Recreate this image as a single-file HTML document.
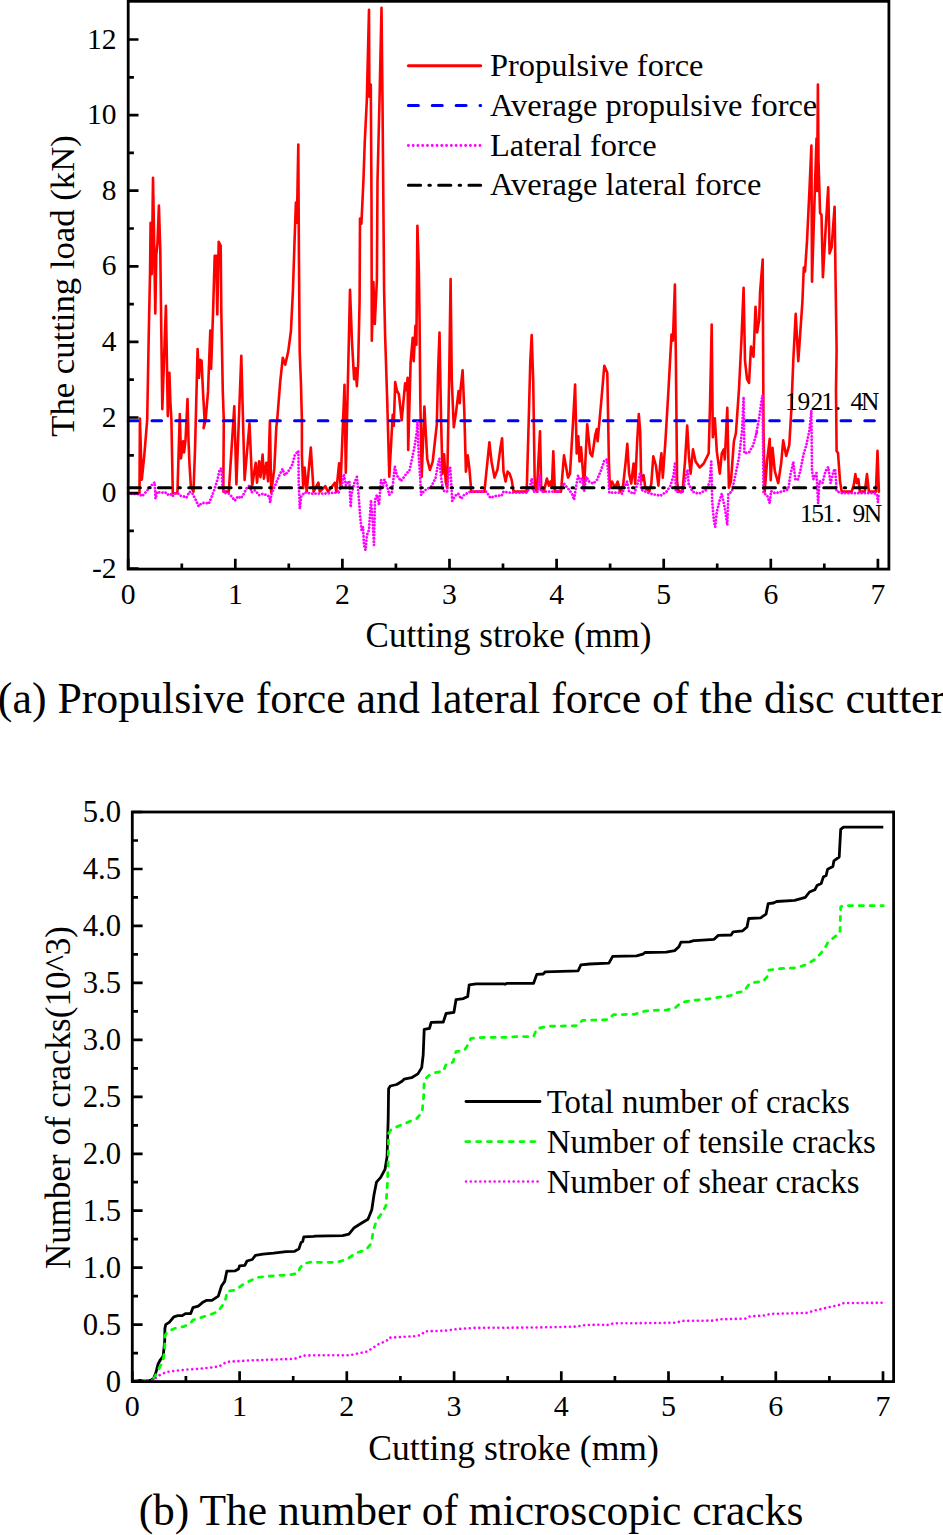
<!DOCTYPE html><html><head><meta charset="utf-8"><title>Figure</title><style>
html,body{margin:0;padding:0;background:#fff;}svg{display:block;}text{font-family:"Liberation Serif",serif;fill:#000;}
</style></head><body>
<svg width="943" height="1535" viewBox="0 0 943 1535">
<rect width="943" height="1535" fill="#fff"/>
<path d="M128.1,493.3 L139.5,493.3 L139.9,418.5 L141.8,479.6 L144.2,456.4 L147.2,419.9 L148.8,331.5 L150.0,275.1 L150.6,222.7 L151.8,274.1 L153.0,177.8 L153.8,220.7 L155.3,313.4 L156.3,254.9 L157.5,242.8 L158.9,205.6 L160.3,250.9 L161.3,331.5 L162.3,409.1 L164.3,351.6 L165.9,305.7 L166.9,361.7 L167.8,416.1 L169.4,372.8 L170.4,402.0 L171.4,419.9 L172.8,493.3 L177.4,493.3 L178.4,460.4 L179.8,414.1 L181.0,458.4 L183.1,441.3 L184.1,452.4 L185.5,440.3 L187.5,399.0 L188.5,440.3 L189.5,464.5 L190.9,486.6 L193.5,491.6 L195.0,450.4 L197.6,349.0 L199.0,377.8 L200.2,359.7 L201.6,360.7 L203.0,391.9 L204.6,419.9 L203.6,428.2 L205.6,420.1 L208.0,391.9 L210.3,330.5 L211.1,368.8 L213.1,311.3 L214.7,255.9 L216.3,255.9 L217.3,314.4 L218.7,241.8 L220.7,245.9 L221.3,311.3 L222.8,391.9 L223.8,419.9 L223.3,491.6 L228.8,491.6 L234.3,406.2 L236.4,484.1 L241.3,355.7 L244.6,480.0 L249.5,423.4 L252.2,485.5 L255.7,462.7 L257.0,482.7 L259.1,461.3 L260.5,477.2 L262.6,454.5 L263.9,478.6 L266.3,462.7 L268.1,481.3 L269.9,420.7 L271.2,492.4 L274.3,468.9 L276.3,427.6 L277.2,419.9 L280.2,381.9 L282.8,357.7 L285.2,364.7 L288.2,351.6 L290.9,331.5 L292.9,291.2 L294.9,230.7 L295.9,202.5 L296.9,222.7 L298.3,144.5 L298.9,250.9 L299.7,351.6 L300.9,381.9 L301.9,419.9 L301.9,455.1 L303.2,488.2 L304.6,467.6 L306.7,491.6 L310.8,447.6 L313.6,491.6 L318.4,482.7 L319.8,491.6 L325.3,486.2 L328.0,491.6 L334.9,482.7 L336.3,491.6 L339.1,463.4 L340.5,485.5 L344.5,384.8 L345.8,472.7 L350.0,289.7 L352.0,342.0 L354.1,379.3 L355.5,368.2 L356.9,386.1 L358.2,362.7 L359.6,300.7 L360.0,218.6 L361.4,223.7 L363.4,181.3 L364.8,141.0 L366.8,100.7 L369.0,9.7 L369.4,96.7 L370.8,84.6 L371.5,200.0 L371.8,340.7 L373.4,282.0 L374.8,324.0 L376.9,280.0 L377.5,181.0 L379.5,100.7 L381.5,7.7 L382.5,100.7 L384.1,290.0 L385.1,335.0 L387.2,400.0 L389.3,476.8 L392.7,414.8 L393.8,425.8 L395.2,382.0 L396.8,390.3 L398.9,394.4 L401.7,420.3 L405.1,383.4 L406.5,390.3 L407.6,377.9 L408.2,450.0 L410.6,362.7 L412.7,337.9 L413.7,361.3 L415.5,325.5 L416.4,344.8 L417.4,225.7 L418.8,268.0 L419.6,321.4 L420.3,400.0 L421.7,476.8 L424.4,406.5 L427.2,458.9 L429.9,470.0 L432.7,461.7 L436.8,424.5 L438.1,370.8 L439.5,332.5 L441.1,421.2 L442.5,473.6 L444.1,454.4 L445.7,481.6 L447.1,487.7 L449.1,380.9 L450.6,279.1 L451.8,380.9 L453.8,427.2 L456.2,411.1 L458.6,391.0 L459.8,403.1 L460.6,389.0 L462.6,370.4 L464.3,411.1 L465.9,471.6 L467.7,455.4 L469.3,467.5 L471.3,491.6 L484.4,491.6 L486.4,471.6 L489.4,442.3 L491.5,461.5 L494.5,477.6 L497.5,469.5 L500.5,447.4 L502.1,438.3 L503.5,471.6 L505.6,481.6 L507.6,471.6 L509.6,473.6 L511.6,479.6 L513.6,491.6 L526.7,491.6 L528.7,421.2 L530.3,360.7 L531.7,335.0 L533.2,380.9 L534.8,487.7 L536.8,491.6 L538.4,461.5 L540.0,431.3 L541.2,487.7 L543.8,491.6 L546.9,478.6 L548.9,485.7 L550.3,481.6 L551.9,487.7 L553.3,451.4 L554.9,491.6 L561.0,491.6 L564.0,455.4 L568.0,477.6 L570.0,473.6 L573.1,421.2 L575.1,384.5 L576.7,453.4 L578.3,436.3 L579.5,461.5 L581.1,447.4 L584.1,487.7 L587.2,424.2 L590.2,453.4 L592.2,456.4 L595.2,435.3 L596.8,429.2 L597.6,441.3 L601.3,401.0 L604.3,365.8 L607.3,372.8 L608.9,461.5 L609.9,487.7 L610.0,487.7 L612.0,481.6 L615.0,487.7 L617.7,481.6 L620.1,491.6 L623.1,485.7 L625.7,461.5 L627.3,443.8 L629.1,473.6 L631.2,483.6 L633.6,463.5 L635.2,483.6 L637.2,441.3 L638.8,414.1 L640.2,431.3 L641.2,481.6 L643.6,475.2 L645.3,487.7 L649.3,491.6 L651.3,483.6 L653.3,456.4 L655.9,465.5 L658.4,485.7 L660.4,461.5 L661.4,453.4 L662.8,477.6 L665.4,441.3 L668.4,391.0 L671.5,334.5 L672.9,340.6 L674.9,284.6 L675.9,360.7 L677.1,481.6 L678.5,491.6 L682.5,491.6 L685.0,461.5 L687.2,425.6 L689.0,457.5 L690.6,473.6 L693.0,449.4 L695.6,461.5 L699.7,467.5 L703.7,463.5 L708.7,453.4 L710.1,401.0 L711.7,324.5 L712.8,437.3 L714.8,418.2 L716.8,451.4 L719.8,473.6 L721.8,453.4 L723.8,449.4 L724.8,459.5 L727.3,407.7 L728.9,487.7 L730.9,481.6 L733.9,441.3 L735.9,433.3 L739.0,389.0 L741.4,340.6 L743.6,287.8 L745.0,360.7 L747.0,378.9 L749.0,382.9 L751.0,346.6 L753.5,356.7 L755.5,306.7 L757.1,332.5 L759.1,320.4 L760.1,291.7 L762.7,259.5 L763.5,430.7 L764.7,491.6 L767.1,461.0 L769.7,438.8 L770.7,480.1 L772.5,447.9 L774.8,471.0 L778.2,483.1 L781.2,463.0 L783.2,440.4 L786.2,455.9 L789.3,444.8 L791.3,410.6 L793.3,360.2 L795.7,313.9 L798.3,361.2 L802.4,301.8 L803.8,267.5 L805.0,271.6 L807.0,241.3 L809.4,191.0 L811.4,145.6 L812.0,281.6 L814.5,201.0 L816.5,138.6 L817.1,191.0 L817.9,84.6 L818.5,160.7 L820.1,213.1 L821.5,215.1 L822.9,277.2 L825.5,231.3 L828.2,187.3 L829.6,253.4 L831.6,247.4 L834.6,206.7 L835.6,281.6 L836.6,349.9 L836.0,390.4 L836.6,450.9 L838.0,452.9 L840.0,481.1 L841.7,491.6 L851.7,491.6 L853.7,485.1 L855.4,474.1 L856.8,483.1 L858.4,479.1 L859.8,491.6 L864.8,491.6 L867.0,474.1 L868.9,491.6 L873.9,491.6 L875.9,491.6 L877.5,450.9 L878.9,491.6" fill="none" stroke="#ff0000" stroke-width="2.6" stroke-linejoin="round" stroke-linecap="round"/>
<path d="M128.2,420.8 H877.8" fill="none" stroke="#0000ff" stroke-width="3" stroke-dasharray="9.6 14.16" stroke-linecap="round"/>
<path d="M128.1,493.7 L140.1,494.3 L141.8,496.3 L146.2,491.7 L150.2,486.6 L153.2,483.6 L154.7,482.2 L155.5,498.7 L157.3,491.7 L160.3,492.7 L165.3,492.3 L167.3,494.7 L170.4,493.7 L172.4,496.3 L175.4,493.1 L178.4,493.7 L180.4,495.7 L183.5,496.3 L186.5,497.7 L189.5,491.7 L192.5,493.7 L195.6,499.7 L198.6,506.2 L201.6,503.2 L205.6,502.8 L208.7,503.8 L211.7,496.7 L214.7,488.7 L217.7,478.6 L219.7,469.5 L221.3,468.5 L222.4,484.6 L223.8,492.7 L228.8,493.7 L231.8,496.7 L234.8,500.7 L237.9,496.3 L240.9,498.3 L243.3,494.7 L246.7,488.2 L250.2,484.8 L251.5,492.4 L255.0,490.3 L259.1,495.1 L263.3,493.7 L269.5,496.5 L270.1,502.7 L271.5,493.7 L275.7,484.1 L279.8,474.4 L282.6,468.9 L284.6,475.1 L288.1,471.7 L292.2,464.8 L295.0,454.5 L298.4,451.0 L298.7,482.7 L299.8,508.9 L301.2,496.5 L304.6,492.4 L311.5,493.7 L325.3,493.5 L339.1,492.4 L337.6,492.7 L341.7,486.5 L343.8,474.1 L345.8,485.1 L349.3,481.0 L350.7,507.2 L351.4,494.8 L354.1,483.7 L356.9,476.9 L358.3,492.0 L359.4,505.8 L360.0,515.0 L361.5,530.0 L363.0,527.0 L364.0,545.0 L365.5,550.0 L367.0,535.0 L369.0,530.0 L371.0,500.0 L372.5,520.0 L374.0,545.0 L375.0,500.0 L377.0,495.0 L379.0,505.0 L381.0,480.0 L383.1,486.5 L384.4,479.6 L387.2,486.5 L389.3,494.8 L392.0,492.0 L393.4,479.6 L394.8,466.5 L396.9,475.5 L401.0,481.0 L405.1,475.5 L407.2,472.7 L409.3,471.3 L412.0,458.9 L414.8,445.1 L416.8,431.4 L417.5,421.7 L418.9,458.9 L420.3,479.6 L421.0,494.8 L424.4,490.6 L431.3,486.5 L435.5,478.2 L438.2,463.1 L439.5,458.5 L441.1,477.6 L443.1,490.7 L447.1,491.7 L448.5,473.6 L450.1,466.5 L451.2,481.6 L452.2,500.8 L455.2,495.7 L458.2,493.7 L461.2,498.8 L464.3,494.7 L470.3,491.7 L486.4,491.7 L490.4,497.8 L496.5,495.7 L501.5,495.7 L503.5,491.7 L510.6,492.7 L526.7,492.7 L529.7,487.7 L531.7,478.6 L533.2,491.7 L537.8,491.7 L539.8,474.6 L540.8,491.7 L559.0,491.7 L564.0,483.6 L569.0,489.7 L572.0,493.7 L574.1,499.8 L575.5,489.7 L578.1,475.6 L580.1,481.6 L582.1,477.6 L584.1,491.7 L586.2,476.6 L589.2,481.6 L593.2,483.6 L597.2,479.6 L601.3,469.5 L604.3,460.5 L606.9,459.5 L608.3,473.6 L609.3,492.7 L620.0,492.7 L622.1,493.7 L625.1,485.7 L627.1,481.6 L629.1,491.7 L634.2,493.7 L638.2,481.6 L640.2,472.6 L641.2,489.7 L650.3,493.7 L660.4,495.7 L666.4,491.7 L670.4,485.7 L673.5,475.6 L674.9,463.5 L675.9,491.7 L682.5,492.7 L685.6,477.6 L687.6,469.5 L688.6,483.6 L692.6,491.7 L698.7,493.7 L706.7,489.7 L709.7,481.6 L711.3,461.5 L712.2,501.8 L713.8,519.9 L715.2,527.0 L716.8,511.9 L719.8,499.8 L721.8,493.7 L724.8,507.8 L727.3,525.0 L728.3,493.7 L731.9,491.7 L734.9,477.6 L739.0,457.5 L742.0,431.3 L743.6,397.0 L744.4,453.4 L749.0,452.4 L753.1,445.4 L757.1,431.3 L756.0,434.8 L759.0,418.7 L761.5,400.5 L762.5,395.5 L763.1,450.9 L763.5,493.2 L767.1,495.2 L769.7,503.3 L771.1,491.2 L775.2,493.2 L783.2,491.2 L788.3,489.2 L790.3,475.1 L793.3,462.0 L795.3,479.1 L797.7,480.1 L800.3,471.0 L803.4,454.9 L806.4,444.8 L809.4,430.7 L811.4,410.6 L812.0,471.0 L813.4,479.1 L816.5,473.1 L818.1,503.3 L819.5,481.1 L822.5,483.1 L825.5,471.0 L828.2,467.0 L830.6,483.1 L833.6,471.0 L835.2,469.0 L836.6,491.2 L841.7,493.2 L873.9,493.2 L876.9,494.2 L877.9,502.3 L878.9,493.2" fill="none" stroke="#ff00ff" stroke-width="2.8" stroke-dasharray="0.01 3.3" stroke-linecap="round" stroke-linejoin="round"/>
<path d="M128.2,487.8 H877.8" fill="none" stroke="#000" stroke-width="3" stroke-dasharray="12.2 8.27 1.5 8.27" stroke-linecap="round"/>
<rect x="128.2" y="1.3" width="760.7" height="567.8000000000001" fill="none" stroke="#000" stroke-width="2.8"/>
<path d="M128.2,569.1 v-10.3 M181.8,569.1 v-5.7 M235.3,569.1 v-10.3 M288.8,569.1 v-5.7 M342.4,569.1 v-10.3 M395.9,569.1 v-5.7 M449.5,569.1 v-10.3 M503.0,569.1 v-5.7 M556.6,569.1 v-10.3 M610.1,569.1 v-5.7 M663.7,569.1 v-10.3 M717.2,569.1 v-5.7 M770.8,569.1 v-10.3 M824.3,569.1 v-5.7 M877.9,569.1 v-10.3 M128.2,568.7 h10.3 M128.2,530.9 h5.7 M128.2,493.1 h10.3 M128.2,455.3 h5.7 M128.2,417.5 h10.3 M128.2,379.7 h5.7 M128.2,341.9 h10.3 M128.2,304.1 h5.7 M128.2,266.3 h10.3 M128.2,228.5 h5.7 M128.2,190.7 h10.3 M128.2,152.9 h5.7 M128.2,115.1 h10.3 M128.2,77.3 h5.7 M128.2,39.5 h10.3" stroke="#000" stroke-width="2.7" fill="none"/>
<text x="128.2" y="604" font-size="29.7" text-anchor="middle">0</text>
<text x="235.3" y="604" font-size="29.7" text-anchor="middle">1</text>
<text x="342.4" y="604" font-size="29.7" text-anchor="middle">2</text>
<text x="449.5" y="604" font-size="29.7" text-anchor="middle">3</text>
<text x="556.6" y="604" font-size="29.7" text-anchor="middle">4</text>
<text x="663.7" y="604" font-size="29.7" text-anchor="middle">5</text>
<text x="770.8" y="604" font-size="29.7" text-anchor="middle">6</text>
<text x="877.9" y="604" font-size="29.7" text-anchor="middle">7</text>
<text x="116.5" y="577.7" font-size="29.5" text-anchor="end">-2</text>
<text x="116.5" y="502.1" font-size="29.5" text-anchor="end">0</text>
<text x="116.5" y="426.5" font-size="29.5" text-anchor="end">2</text>
<text x="116.5" y="350.9" font-size="29.5" text-anchor="end">4</text>
<text x="116.5" y="275.3" font-size="29.5" text-anchor="end">6</text>
<text x="116.5" y="199.7" font-size="29.5" text-anchor="end">8</text>
<text x="116.5" y="124.1" font-size="29.5" text-anchor="end">10</text>
<text x="116.5" y="48.5" font-size="29.5" text-anchor="end">12</text>
<text x="508.5" y="647" font-size="35" text-anchor="middle">Cutting stroke (mm)</text>
<text transform="translate(73.7,286) rotate(-90)" font-size="34.7" text-anchor="middle">The cutting load (kN)</text>
<path d="M408.4,65.7 H480.7" stroke="#ff0000" stroke-width="3" stroke-linecap="round"/>
<path d="M408.4,105.6 H480.7" stroke="#0000ff" stroke-width="3" stroke-dasharray="10 13.86" stroke-linecap="round"/>
<path d="M408.4,145.5 H480.9" stroke="#ff00ff" stroke-width="2.9" stroke-dasharray="0.01 4.76" stroke-linecap="round"/>
<path d="M408.4,185.2 H480.7" stroke="#000" stroke-width="3" stroke-dasharray="12.2 8.27 1.5 8.27" stroke-linecap="round"/>
<text x="490" y="76.0" font-size="32.45">Propulsive force</text>
<text x="490" y="115.8" font-size="32.45">Average propulsive force</text>
<text x="490" y="155.6" font-size="32.45">Lateral force</text>
<text x="490" y="195.4" font-size="32.45">Average lateral force</text>
<text x="791.3" y="410.2" font-size="25.5" text-anchor="middle">1</text><text x="803.8" y="410.2" font-size="25.5" text-anchor="middle">9</text><text x="816.9" y="410.2" font-size="25.5" text-anchor="middle">2</text><text x="827.6" y="410.2" font-size="25.5" text-anchor="middle">1</text><text x="838" y="410.2" font-size="25.5" text-anchor="middle">.</text><text x="856.8" y="410.2" font-size="25.5" text-anchor="middle">4</text><text x="870.1" y="410.2" font-size="25.5" text-anchor="middle">N</text>
<text x="806.4" y="522.4" font-size="25.5" text-anchor="middle">1</text><text x="817.5" y="522.4" font-size="25.5" text-anchor="middle">5</text><text x="828.6" y="522.4" font-size="25.5" text-anchor="middle">1</text><text x="838.6" y="522.4" font-size="25.5" text-anchor="middle">.</text><text x="858.8" y="522.4" font-size="25.5" text-anchor="middle">9</text><text x="872.9" y="522.4" font-size="25.5" text-anchor="middle">N</text>
<text x="471.5" y="713" font-size="43.8" text-anchor="middle">(a) Propulsive force and lateral force of the disc cutter</text>
<path d="M132.8,1380.4 L150.5,1380.4 L153.6,1378.3 L155.8,1373.0 L157.9,1364.5 L160.0,1360.3 L163.2,1356.0 L164.7,1341.2 L164.9,1328.5 L165.7,1324.6 L169.5,1322.1 L173.8,1316.8 L178.0,1315.7 L182.3,1315.7 L185.4,1313.6 L190.7,1313.6 L192.9,1307.7 L198.2,1306.2 L202.4,1302.6 L206.7,1300.3 L212.0,1300.3 L218.3,1296.2 L221.5,1286.0 L224.7,1281.4 L226.8,1271.2 L235.3,1270.8 L238.5,1269.1 L239.5,1265.9 L244.8,1265.3 L247.0,1261.0 L252.3,1259.5 L255.4,1255.3 L262.9,1254.2 L273.5,1253.2 L286.2,1251.7 L294.7,1251.3 L298.9,1248.9 L301.0,1242.6 L302.7,1241.5 L303.8,1236.8 L313.8,1236.4 L315.0,1236.2 L342.6,1235.7 L348.9,1234.1 L354.2,1227.7 L361.7,1223.0 L368.0,1219.2 L371.8,1209.7 L374.0,1194.8 L376.5,1182.1 L380.7,1177.4 L385.0,1169.4 L387.1,1156.6 L388.2,1118.5 L388.6,1088.8 L390.3,1086.0 L396.7,1084.5 L402.0,1081.3 L404.1,1079.2 L411.5,1077.7 L417.9,1073.9 L421.7,1067.6 L423.2,1054.8 L424.2,1029.4 L429.5,1028.3 L431.2,1022.4 L443.3,1022.0 L446.1,1013.5 L453.9,1012.4 L456.0,999.7 L463.5,998.6 L467.7,996.5 L469.2,984.8 L476.2,983.8 L503.8,983.8 L505.0,984.3 L507.1,983.3 L533.6,983.3 L536.8,974.4 L543.2,974.0 L545.3,971.8 L578.2,970.8 L580.9,964.8 L589.8,964.0 L608.9,963.1 L612.7,956.4 L636.5,955.9 L642.9,954.2 L645.0,952.5 L666.2,952.1 L674.7,950.6 L678.9,946.8 L681.0,942.1 L689.5,941.9 L693.8,940.7 L695.0,940.7 L714.1,939.3 L718.3,935.4 L731.1,935.0 L733.2,931.8 L742.7,930.8 L747.0,927.0 L748.7,918.5 L760.7,917.8 L766.0,914.2 L768.2,903.6 L773.5,903.0 L776.7,901.5 L794.7,900.4 L805.3,897.3 L809.5,892.0 L814.8,889.8 L817.0,885.6 L821.2,883.5 L823.3,877.1 L826.1,875.6 L827.6,869.3 L832.9,866.5 L833.9,860.8 L839.2,857.0 L840.7,829.4 L843.5,827.1 L883.3,827.1" fill="none" stroke="#000" stroke-width="2.8" stroke-linejoin="round"/>
<path d="M132.8,1380.4 L150.5,1380.4 L154.7,1377.2 L158.9,1368.8 L163.2,1360.3 L164.7,1349.7 L164.9,1335.9 L167.4,1331.6 L175.9,1328.0 L184.4,1326.3 L190.7,1323.2 L192.9,1320.0 L201.4,1317.4 L209.8,1314.7 L218.3,1311.5 L222.6,1305.1 L225.7,1298.8 L227.2,1291.3 L235.3,1290.3 L243.8,1283.9 L252.3,1279.7 L255.4,1277.6 L265.0,1276.5 L277.7,1275.4 L290.4,1274.8 L297.9,1273.3 L300.0,1268.0 L303.2,1263.8 L309.5,1262.3 L313.8,1261.9 L315.0,1262.3 L336.2,1262.3 L346.8,1259.5 L355.3,1253.1 L365.9,1250.0 L371.2,1243.6 L373.3,1230.9 L376.5,1220.3 L382.9,1211.8 L386.0,1205.4 L387.5,1182.1 L388.2,1160.9 L388.6,1133.3 L391.4,1129.1 L404.1,1123.8 L416.8,1118.5 L422.1,1112.1 L423.6,1097.3 L424.2,1080.3 L429.5,1075.0 L435.9,1072.4 L443.3,1071.4 L446.1,1064.4 L452.9,1062.3 L456.0,1051.7 L464.5,1050.2 L468.8,1043.2 L470.9,1038.3 L484.7,1037.4 L503.8,1037.4 L505.0,1037.4 L517.7,1036.5 L533.6,1036.5 L536.8,1028.5 L547.4,1026.3 L577.1,1025.7 L582.4,1020.4 L594.1,1020.0 L607.9,1019.6 L613.2,1014.7 L634.4,1014.3 L645.0,1011.1 L653.5,1010.4 L666.2,1010.0 L674.7,1008.3 L681.0,1002.6 L689.5,1000.9 L693.8,1000.5 L695.0,1000.1 L707.7,999.1 L720.5,996.9 L731.1,995.5 L733.2,993.1 L743.8,991.6 L749.1,984.2 L752.3,982.5 L762.9,981.5 L767.1,976.8 L768.8,970.0 L779.8,968.7 L794.7,967.9 L805.3,965.1 L815.9,958.8 L824.4,949.2 L827.6,942.9 L835.0,936.5 L839.9,933.3 L840.7,906.8 L843.5,905.7 L883.3,905.7" fill="none" stroke="#00ff00" stroke-width="2.75" stroke-dasharray="4.15 6.7" stroke-linecap="round" stroke-linejoin="round"/>
<path d="M132.8,1380.4 L152.6,1380.4 L156.8,1377.2 L161.1,1374.1 L167.4,1371.9 L178.0,1370.5 L188.6,1369.4 L199.2,1368.8 L209.8,1367.7 L218.3,1366.6 L222.6,1364.5 L226.8,1361.8 L235.3,1361.3 L252.3,1360.3 L273.5,1359.6 L294.7,1358.8 L298.9,1357.1 L304.2,1355.6 L313.8,1355.2 L315.0,1355.2 L350.0,1355.2 L367.5,1351.4 L378.6,1344.1 L386.6,1340.9 L388.8,1337.7 L416.8,1336.1 L421.6,1334.5 L424.8,1331.4 L445.4,1330.7 L456.6,1329.1 L474.1,1327.9 L537.7,1327.5 L575.9,1326.6 L585.4,1325.0 L602.9,1324.7 L605.0,1325.7 L613.0,1323.4 L675.0,1322.8 L682.9,1320.9 L713.2,1320.6 L719.5,1319.3 L745.0,1318.7 L749.8,1316.4 L764.1,1315.5 L770.4,1313.9 L807.0,1312.9 L815.0,1310.4 L827.7,1307.5 L838.8,1305.0 L843.6,1303.1 L883.4,1302.8" fill="none" stroke="#ff00ff" stroke-width="2.6" stroke-dasharray="0.01 4.76" stroke-linecap="round"/>
<rect x="132.3" y="812" width="761.3" height="569.5999999999999" fill="none" stroke="#000" stroke-width="2.8"/>
<path d="M132.3,1381.6 v-10.3 M185.9,1381.6 v-5.7 M239.6,1381.6 v-10.3 M293.2,1381.6 v-5.7 M346.8,1381.6 v-10.3 M400.4,1381.6 v-5.7 M454.1,1381.6 v-10.3 M507.7,1381.6 v-5.7 M561.3,1381.6 v-10.3 M614.9,1381.6 v-5.7 M668.5,1381.6 v-10.3 M722.2,1381.6 v-5.7 M775.8,1381.6 v-10.3 M829.4,1381.6 v-5.7 M883.0,1381.6 v-10.3 M132.3,1381.6 h10.3 M132.3,1353.1 h5.7 M132.3,1324.6 h10.3 M132.3,1296.2 h5.7 M132.3,1267.7 h10.3 M132.3,1239.2 h5.7 M132.3,1210.7 h10.3 M132.3,1182.2 h5.7 M132.3,1153.8 h10.3 M132.3,1125.3 h5.7 M132.3,1096.8 h10.3 M132.3,1068.3 h5.7 M132.3,1039.8 h10.3 M132.3,1011.4 h5.7 M132.3,982.9 h10.3 M132.3,954.4 h5.7 M132.3,925.9 h10.3 M132.3,897.4 h5.7 M132.3,869.0 h10.3 M132.3,840.5 h5.7 M132.3,812.0 h10.3" stroke="#000" stroke-width="2.7" fill="none"/>
<text x="132.3" y="1416" font-size="30" text-anchor="middle">0</text>
<text x="239.6" y="1416" font-size="30" text-anchor="middle">1</text>
<text x="346.8" y="1416" font-size="30" text-anchor="middle">2</text>
<text x="454.1" y="1416" font-size="30" text-anchor="middle">3</text>
<text x="561.3" y="1416" font-size="30" text-anchor="middle">4</text>
<text x="668.5" y="1416" font-size="30" text-anchor="middle">5</text>
<text x="775.8" y="1416" font-size="30" text-anchor="middle">6</text>
<text x="883.0" y="1416" font-size="30" text-anchor="middle">7</text>
<text x="121" y="1391.6" font-size="30.7" text-anchor="end">0</text>
<text x="121" y="1334.6" font-size="30.7" text-anchor="end">0.5</text>
<text x="121" y="1277.7" font-size="30.7" text-anchor="end">1.0</text>
<text x="121" y="1220.7" font-size="30.7" text-anchor="end">1.5</text>
<text x="121" y="1163.8" font-size="30.7" text-anchor="end">2.0</text>
<text x="121" y="1106.8" font-size="30.7" text-anchor="end">2.5</text>
<text x="121" y="1049.8" font-size="30.7" text-anchor="end">3.0</text>
<text x="121" y="992.9" font-size="30.7" text-anchor="end">3.5</text>
<text x="121" y="935.9" font-size="30.7" text-anchor="end">4.0</text>
<text x="121" y="879.0" font-size="30.7" text-anchor="end">4.5</text>
<text x="121" y="822.0" font-size="30.7" text-anchor="end">5.0</text>
<text x="513.6" y="1460" font-size="35.6" text-anchor="middle">Cutting stroke (mm)</text>
<text transform="translate(70.2,1097.5) rotate(-90)" font-size="35" text-anchor="middle">Number of cracks(10^3)</text>
<path d="M466,1101.5 H540" stroke="#000" stroke-width="2.8" stroke-linecap="round"/>
<path d="M465.7,1141.6 H540" stroke="#00ff00" stroke-width="2.75" stroke-dasharray="4.15 6.7" stroke-linecap="round"/>
<path d="M466,1181.5 H540" stroke="#ff00ff" stroke-width="2.6" stroke-dasharray="0.01 4.76" stroke-linecap="round"/>
<text x="546.8" y="1112.7" font-size="32.85">Total number of cracks</text>
<text x="546.8" y="1152.7" font-size="32.85">Number of tensile cracks</text>
<text x="546.8" y="1192.7" font-size="32.85">Number of shear cracks</text>
<text x="471" y="1525" font-size="43.5" text-anchor="middle">(b) The number of microscopic cracks</text>
</svg></body></html>
